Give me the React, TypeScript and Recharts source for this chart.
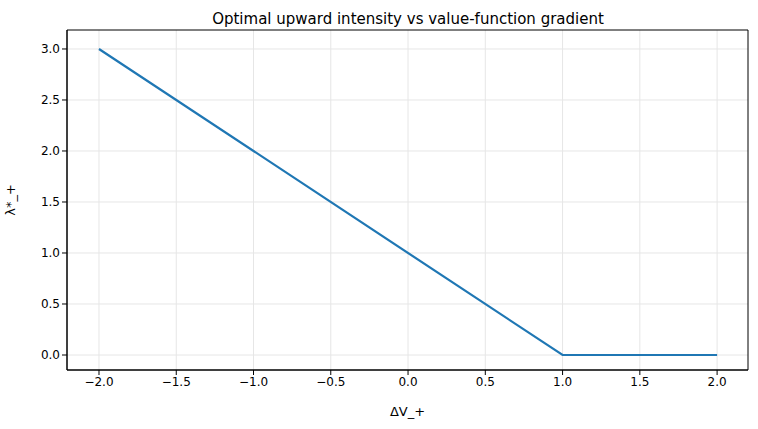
import React from 'react';
import { LineChart, Line, XAxis, YAxis, CartesianGrid, ReferenceArea } from 'recharts';

const xs = [-2, 1, 2];
const ys = [3, 0, 0];
const xTicks = [-2, -1.5, -1, -0.5, 0, 0.5, 1, 1.5, 2];
const yTicks = [0, 0.5, 1, 1.5, 2, 2.5, 3];
const data = xs.map((x, i) => ({ x, y: ys[i] }));

const XD: [number, number] = [-2.207, 2.2];
const YD: [number, number] = [-0.147, 3.186];

const font = { fontFamily: 'DejaVu Sans', fontSize: 12, fill: '#000' };
const fmt = (v: number) => v.toFixed(1).replace('-', '\u2212');

export default function App() {
  return (
    <div style={{ position: 'absolute', left: 0, top: 0, width: 758, height: 429, background: '#fff', fontFamily: 'DejaVu Sans' }}>
      <LineChart width={758} height={429} data={data} margin={{ top: 30, right: 10, bottom: 0, left: 0 }}>
        <CartesianGrid stroke="#e6e6e6" horizontalValues={yTicks} verticalValues={xTicks} />
        <XAxis dataKey="x" type="number" domain={XD} ticks={xTicks} tickFormatter={fmt}
          height={59} tick={font} tickSize={5} stroke="#000" allowDataOverflow
          label={{ value: 'ΔV_+', position: 'insideBottom', offset: 13, style: { ...font, fontSize: 13 } }} />
        <YAxis type="number" domain={YD} ticks={yTicks} tickFormatter={fmt} width={67}
          tick={font} tickSize={5} stroke="#000" allowDataOverflow
          label={{ value: 'λ*_+', angle: -90, position: 'insideLeft', offset: 10, style: { ...font, fontSize: 13, textAnchor: 'middle' } }} />
        <ReferenceArea x1={XD[0]} x2={XD[1]} y1={YD[0]} y2={YD[1]} fill="none" stroke="#000" strokeWidth={1} ifOverflow="visible" />
        <Line dataKey="y" stroke="#1f77b4" strokeWidth={2.2} dot={false} isAnimationActive={false} />
        <text x={408} y={24} textAnchor="middle" style={{ fontFamily: 'DejaVu Sans', fontSize: 15 }}>Optimal upward intensity vs value-function gradient</text>
      </LineChart>
    </div>
  );
}
